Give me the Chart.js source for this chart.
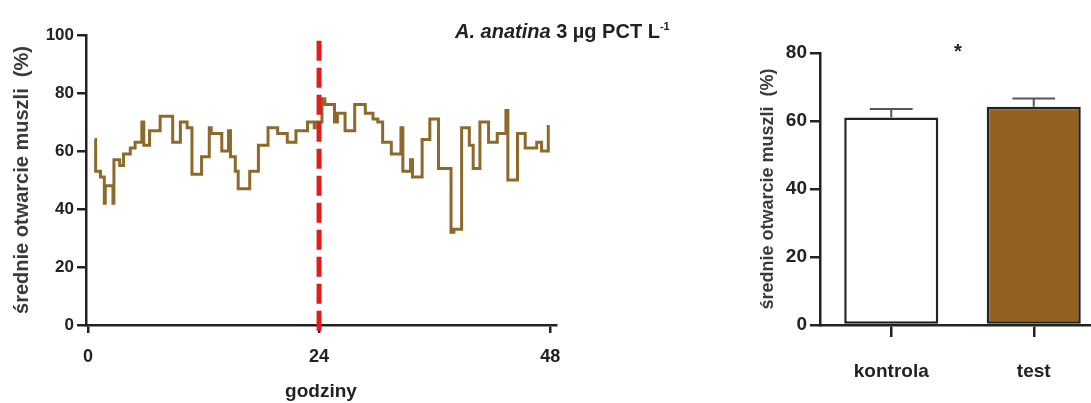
<!DOCTYPE html>
<html>
<head>
<meta charset="utf-8">
<script src="https://cdn.jsdelivr.net/npm/chart.js@4"></script>
<style>
  body { margin: 0; width: 1091px; height: 403px; overflow: hidden; background: #fff; position: relative;
         font-family: "Liberation Sans", Arial, sans-serif; color: #222; }
  #left { position: absolute; left: 0; top: 0; }
  #right { position: absolute; left: 720px; top: 0; }
  #title { position: absolute; left: 455px; top: 20px; font-weight: bold; font-size: 20px; white-space: nowrap; }
  #title sup { font-size: 11px; }
  #star { position: absolute; left: 954px; top: 40px; font-weight: bold; font-size: 20px; }
</style>
</head>
<body>
<canvas id="left" width="580" height="403"></canvas>
<canvas id="right" width="400" height="403"></canvas>
<div id="title"><i>A. anatina</i> 3 µg PCT L<sup>-1</sup></div>
<div id="star">*</div>
<script>
// time course (step starts, hours) and mean shell opening (%)
const hours = [0.7, 0.8, 1.3, 1.7, 1.8, 2.6, 2.7, 3.3, 3.7, 4.4, 4.9, 5.6, 5.8, 6.4, 7.5, 8.8, 9.6, 10.3, 10.8, 11.8,
  12.6, 12.8, 13.9, 14.6, 14.8, 15.3, 15.6, 16.8, 17.7, 18.7, 19.7, 20.7, 21.6, 22.8, 23.5, 23.6, 24.3, 24.6, 25.6, 25.9,
  26.7, 27.7, 28.8, 29.6, 30.1, 30.6, 31.5, 32.5, 32.7, 33.5, 33.7, 34.7, 35.5, 36.4, 37.7, 38.0, 38.8, 39.6, 40.0, 40.7,
  41.6, 42.5, 43.4, 43.6, 44.6, 45.4, 46.6, 47.1, 47.8];
const opening = [64, 53, 51, 42, 48, 42, 57, 55, 59, 61, 63, 70, 62, 67, 72, 63, 70, 68, 52, 58,
  68, 66, 60, 67, 58, 53, 47, 53, 62, 68, 66, 63, 67, 70, 68, 70, 78, 76, 70, 73,
  67, 76, 73, 71, 70, 63, 59, 68, 53, 57, 51, 64, 71, 54, 32, 33, 68, 62, 54, 70,
  63, 66, 74, 50, 66, 61, 63, 60, 69];
const hourTicks = [0, 24, 48];
const leftTicks = [0, 20, 40, 60, 80, 100];
const markerHour = 24;
const markerTop = 98;

// summary bars
const groups = ['kontrola', 'test'];
const means = [61, 64.2];
const sems = [2.5, 2.4];
const rightTicks = [0, 20, 40, 60, 80];

const ink = '#222';
const yTitle = 'średnie otwarcie muszli  (%)';
Chart.defaults.font.family = '"Liberation Sans", Arial, sans-serif';
Chart.defaults.font.weight = 'bold';
Chart.defaults.color = ink;
Chart.defaults.animation = false;

const fixTicks = list => scale => { scale.ticks = list.map(v => ({ value: v })); };

const markerLine = {
  id: 'markerLine',
  afterDatasetsDraw(chart) {
    const { ctx, scales: { x, y } } = chart;
    const px = x.getPixelForValue(markerHour);
    ctx.save();
    ctx.strokeStyle = '#e31b1b';
    ctx.lineWidth = 5;
    ctx.setLineDash([20, 7]);
    ctx.beginPath();
    ctx.moveTo(px, y.getPixelForValue(markerTop));
    ctx.lineTo(px, y.bottom + 8);
    ctx.stroke();
    ctx.restore();
  }
};

new Chart(document.getElementById('left'), {
  type: 'line',
  data: {
    datasets: [{
      data: hours.map((h, i) => ({ x: h, y: opening[i] })),
      stepped: 'before',
      borderColor: '#8d6a2b',
      borderWidth: 3,
      pointRadius: 0,
      fill: false
    }]
  },
  options: {
    responsive: false,
    layout: { padding: { top: 35, right: 24, left: 0, bottom: 0 } },
    plugins: { legend: { display: false }, tooltip: { enabled: false } },
    scales: {
      x: {
        type: 'linear', min: -0.2, max: 48.6,
        afterBuildTicks: fixTicks(hourTicks),
        afterFit: s => { s.height = 78; },
        grid: { drawOnChartArea: false, tickLength: 8, color: ink, lineWidth: 2.5 },
        border: { color: ink, width: 2.5 },
        ticks: { font: { size: 18 }, padding: 13, maxRotation: 0 },
        title: { display: true, text: 'godziny', font: { size: 19 }, padding: { top: 0, bottom: 0 } }
      },
      y: {
        min: 0, max: 100,
        afterBuildTicks: fixTicks(leftTicks),
        afterFit: s => { s.width = 86; },
        grid: { drawOnChartArea: false, tickLength: 9, color: ink, lineWidth: 2.5 },
        border: { color: ink, width: 2.5 },
        ticks: { font: { size: 17 }, padding: 3 },
        title: { display: true, text: yTitle, font: { size: 20 }, color: '#3a3a3a', padding: { top: 10, bottom: 0 } }
      }
    }
  },
  plugins: [markerLine]
});

const errorBars = {
  id: 'errorBars',
  afterDatasetsDraw(chart) {
    const { ctx, scales: { y } } = chart;
    ctx.save();
    ctx.strokeStyle = '#555';
    ctx.lineWidth = 2;
    chart.getDatasetMeta(0).data.forEach((bar, i) => {
      const top = y.getPixelForValue(means[i] + sems[i]);
      const half = bar.width / 4.4;
      ctx.beginPath();
      ctx.moveTo(bar.x, bar.y);
      ctx.lineTo(bar.x, top);
      ctx.moveTo(bar.x - half, top);
      ctx.lineTo(bar.x + half, top);
      ctx.stroke();
    });
    ctx.restore();
  }
};

new Chart(document.getElementById('right'), {
  type: 'bar',
  data: {
    labels: groups,
    datasets: [{
      data: means,
      backgroundColor: ['#ffffff', '#946220'],
      borderColor: ink,
      borderWidth: 2.5,
      borderSkipped: false,
      barPercentage: 0.66,
      categoryPercentage: 1
    }]
  },
  options: {
    responsive: false,
    layout: { padding: { top: 53, right: 15, left: 0, bottom: 0 } },
    plugins: { legend: { display: false }, tooltip: { enabled: false } },
    scales: {
      x: {
        afterFit: s => { s.height = 78; },
        grid: { offset: false, drawOnChartArea: false, tickLength: 12, color: ink, lineWidth: 2.5 },
        border: { color: ink, width: 2.5 },
        ticks: { font: { size: 19 }, padding: 23 }
      },
      y: {
        min: 0, max: 80,
        afterBuildTicks: fixTicks(rightTicks),
        afterFit: s => { s.width = 100; },
        grid: { drawOnChartArea: false, tickLength: 10, color: ink, lineWidth: 2.5 },
        border: { color: ink, width: 2.5 },
        ticks: { font: { size: 19 }, padding: 3 },
        title: { display: true, text: yTitle, font: { size: 18 }, color: '#3a3a3a', padding: { top: 37, bottom: 0 } }
      }
    }
  },
  plugins: [errorBars]
});
</script>
</body>
</html>
